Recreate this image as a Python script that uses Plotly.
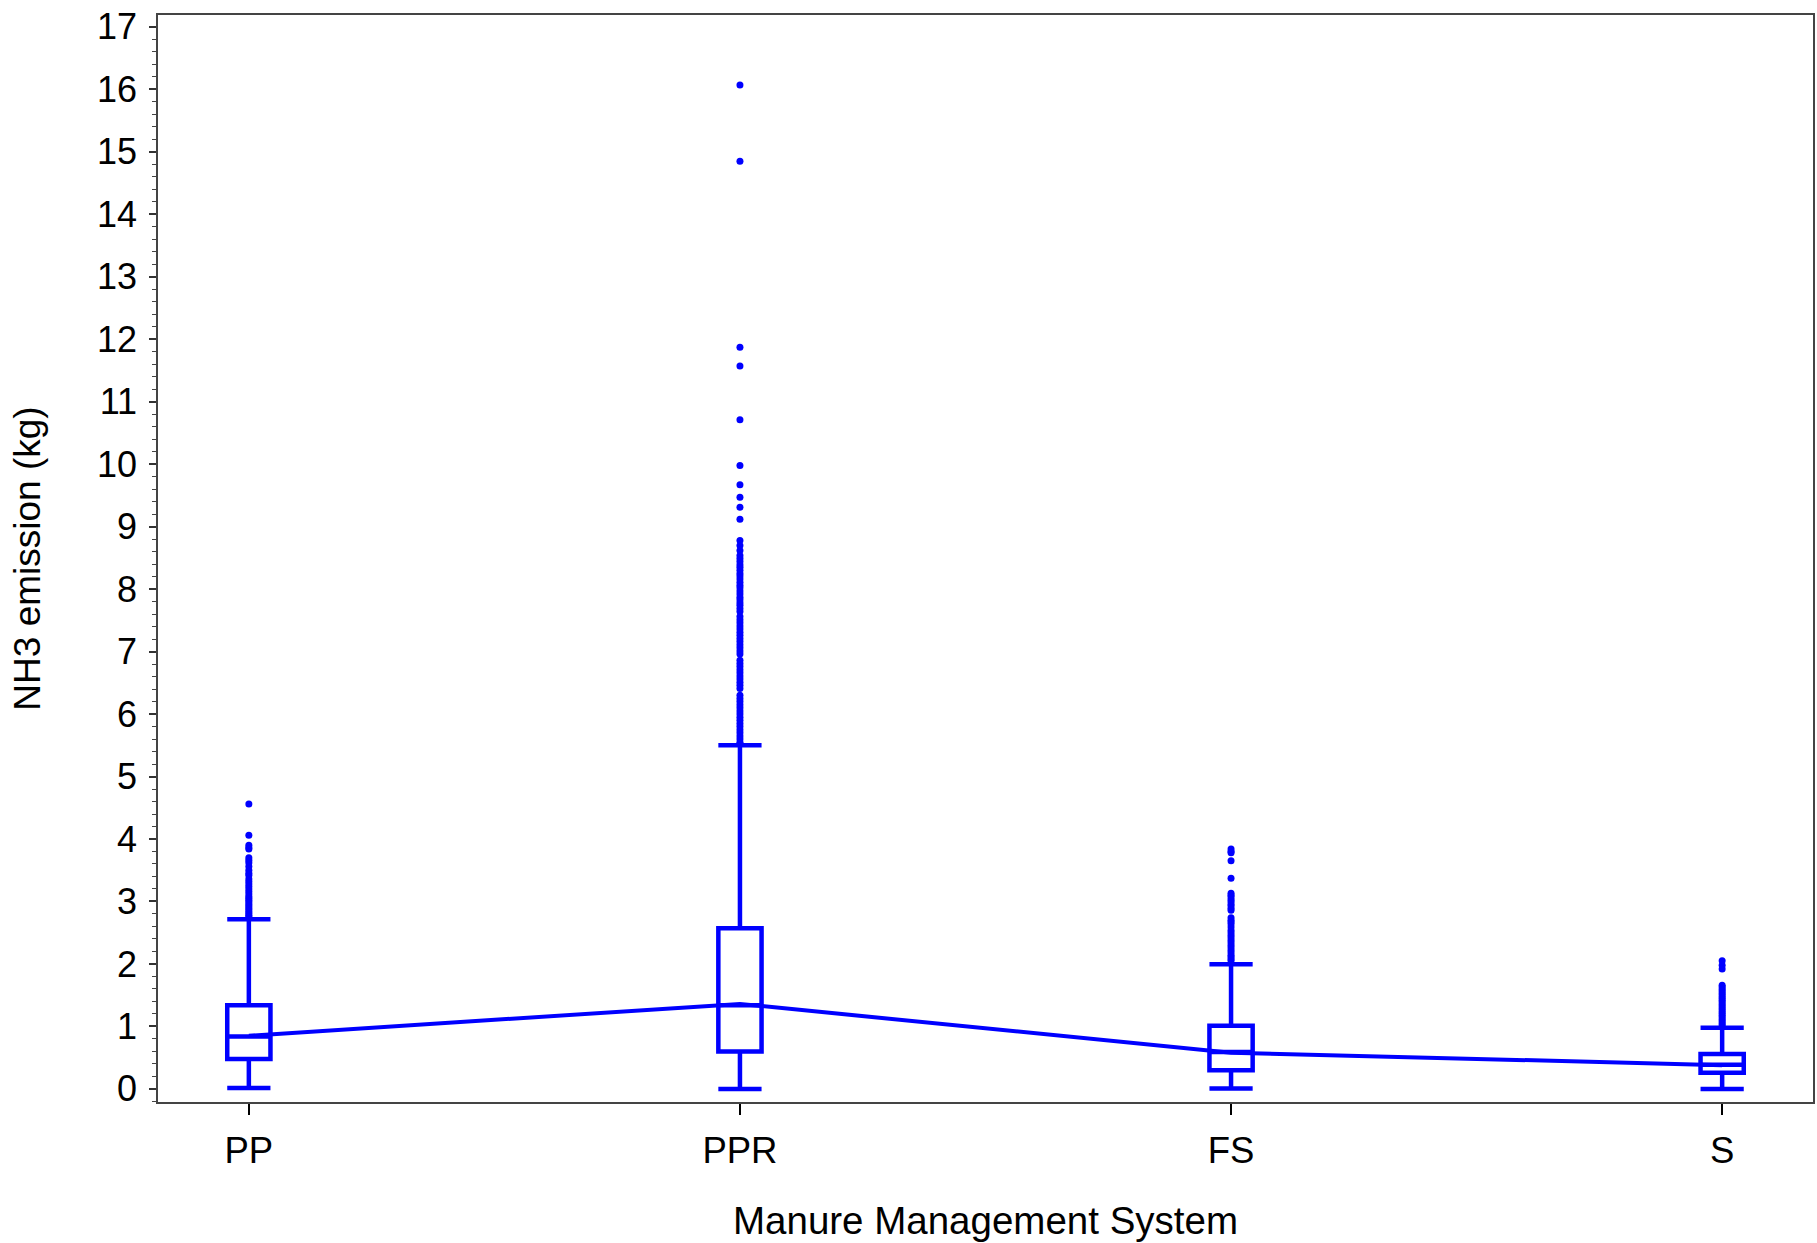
import plotly.graph_objects as go

# ---- data ----
systems = ["PP", "PPR", "FS", "S"]
q1 = [0.48, 0.60, 0.30, 0.26]
median = [0.84, 1.34, 0.59, 0.385]
q3 = [1.34, 2.57, 1.01, 0.56]
lower_whisker = [0.016, 0.0, 0.005, 0.0]
upper_whisker = [2.715, 5.50, 1.995, 0.98]
means = [0.85, 1.36, 0.58, 0.38]

outliers_pp = [4.56, 4.06, 3.90, 3.86, 3.84, 3.70, 3.66, 3.62, 3.56, 3.50, 3.45,
               3.42, 3.36, 3.32, 3.28, 3.24, 3.20, 3.16, 3.12, 3.08, 3.05, 3.02,
               2.99, 2.96, 2.93, 2.90, 2.87, 2.84, 2.81, 2.78, 2.76]
outliers_ppr = [16.07, 14.85, 11.87, 11.57, 10.71, 9.98, 9.67, 9.47, 9.31, 9.12,
                8.78, 8.70, 8.62, 8.54, 8.49, 8.44, 8.39, 8.35, 8.30, 8.25, 8.21,
                8.16, 8.11, 8.06, 8.02, 7.97, 7.92, 7.87, 7.83, 7.78, 7.74, 7.69,
                7.64, 7.56, 7.51, 7.46, 7.41, 7.36, 7.31, 7.26, 7.21, 7.16, 7.11,
                7.06, 7.01, 6.96, 6.86, 6.81, 6.76, 6.71, 6.66, 6.61, 6.56, 6.51,
                6.46, 6.41, 6.30, 6.25, 6.20, 6.15, 6.10, 6.05, 6.00, 5.95, 5.90,
                5.85, 5.80, 5.75, 5.70, 5.65, 5.60, 5.55, 5.52]
outliers_fs = [3.84, 3.80, 3.78, 3.65, 3.37, 3.13, 3.10, 3.07, 3.03, 3.00, 2.96,
               2.93, 2.89, 2.86, 2.74, 2.70, 2.67, 2.64, 2.59, 2.54, 2.50, 2.46,
               2.42, 2.38, 2.34, 2.30, 2.26, 2.22, 2.18, 2.14, 2.11, 2.08, 2.05]
outliers_s = [2.05, 1.98, 1.92, 1.66, 1.63, 1.60, 1.57, 1.54, 1.51, 1.48, 1.45,
              1.42, 1.39, 1.36, 1.33, 1.30, 1.27, 1.24, 1.21, 1.18, 1.15, 1.12,
              1.09, 1.06, 1.03, 1.00]

x_title = "Manure Management System"
y_title = "NH3 emission (kg)"

BLUE = "#0000FF"
FONT = "Liberation Sans, Arial, sans-serif"

fig = go.Figure()

# connecting line
fig.add_trace(go.Scatter(
    x=systems, y=means, mode="lines",
    line=dict(color=BLUE, width=4), showlegend=False, hoverinfo="skip"))

# boxes
fig.add_trace(go.Box(
    x=systems, q1=q1, median=median, q3=q3,
    lowerfence=lower_whisker, upperfence=upper_whisker,
    boxpoints=False, width=0.088, whiskerwidth=1,
    line=dict(color=BLUE, width=4.5), fillcolor="rgba(0,0,0,0)",
    showlegend=False))

# outliers
all_out = [outliers_pp, outliers_ppr, outliers_fs, outliers_s]
ox, oy = [], []
for cat, vals in zip(systems, all_out):
    ox += [cat] * len(vals)
    oy += vals
fig.add_trace(go.Scatter(
    x=ox, y=oy, mode="markers",
    marker=dict(color=BLUE, size=7, line=dict(width=0)),
    showlegend=False))

fig.update_layout(
    width=1817, height=1243,
    margin=dict(l=158, r=2, t=15, b=141),
    paper_bgcolor="white", plot_bgcolor="white",
    font=dict(family=FONT, color="black", size=36),
    showlegend=False,
)

fig.update_xaxes(
    type="category", categoryorder="array", categoryarray=systems,
    range=[-0.185, 3.185],
    showline=True, linecolor="#444", linewidth=1.5, mirror=True,
    ticks="outside", ticklen=11, tickwidth=2, tickcolor="black",
    showgrid=False, zeroline=False,
    ticklabelstandoff=4,
    tickfont=dict(size=36.5, family=FONT, color="black"),
    title=dict(text=x_title, font=dict(size=38.5, family=FONT, color="black"), standoff=38),
)

fig.update_yaxes(
    range=[-0.21, 17.19],
    tickmode="linear", tick0=0, dtick=1,
    showline=True, linecolor="#444", linewidth=1.5, mirror=True,
    ticks="outside", ticklen=7, tickwidth=1.5, tickcolor="#333",
    minor=dict(dtick=0.2, tick0=0, ticks="outside", ticklen=4, tickwidth=1.2, tickcolor="#444", showgrid=False),
    showgrid=False, zeroline=False,
    ticklabelstandoff=5,
    tickfont=dict(size=36, family=FONT, color="black"),
    title=dict(text=y_title, font=dict(size=37, family=FONT, color="black"), standoff=45),
)

fig.write_html("out.html")
